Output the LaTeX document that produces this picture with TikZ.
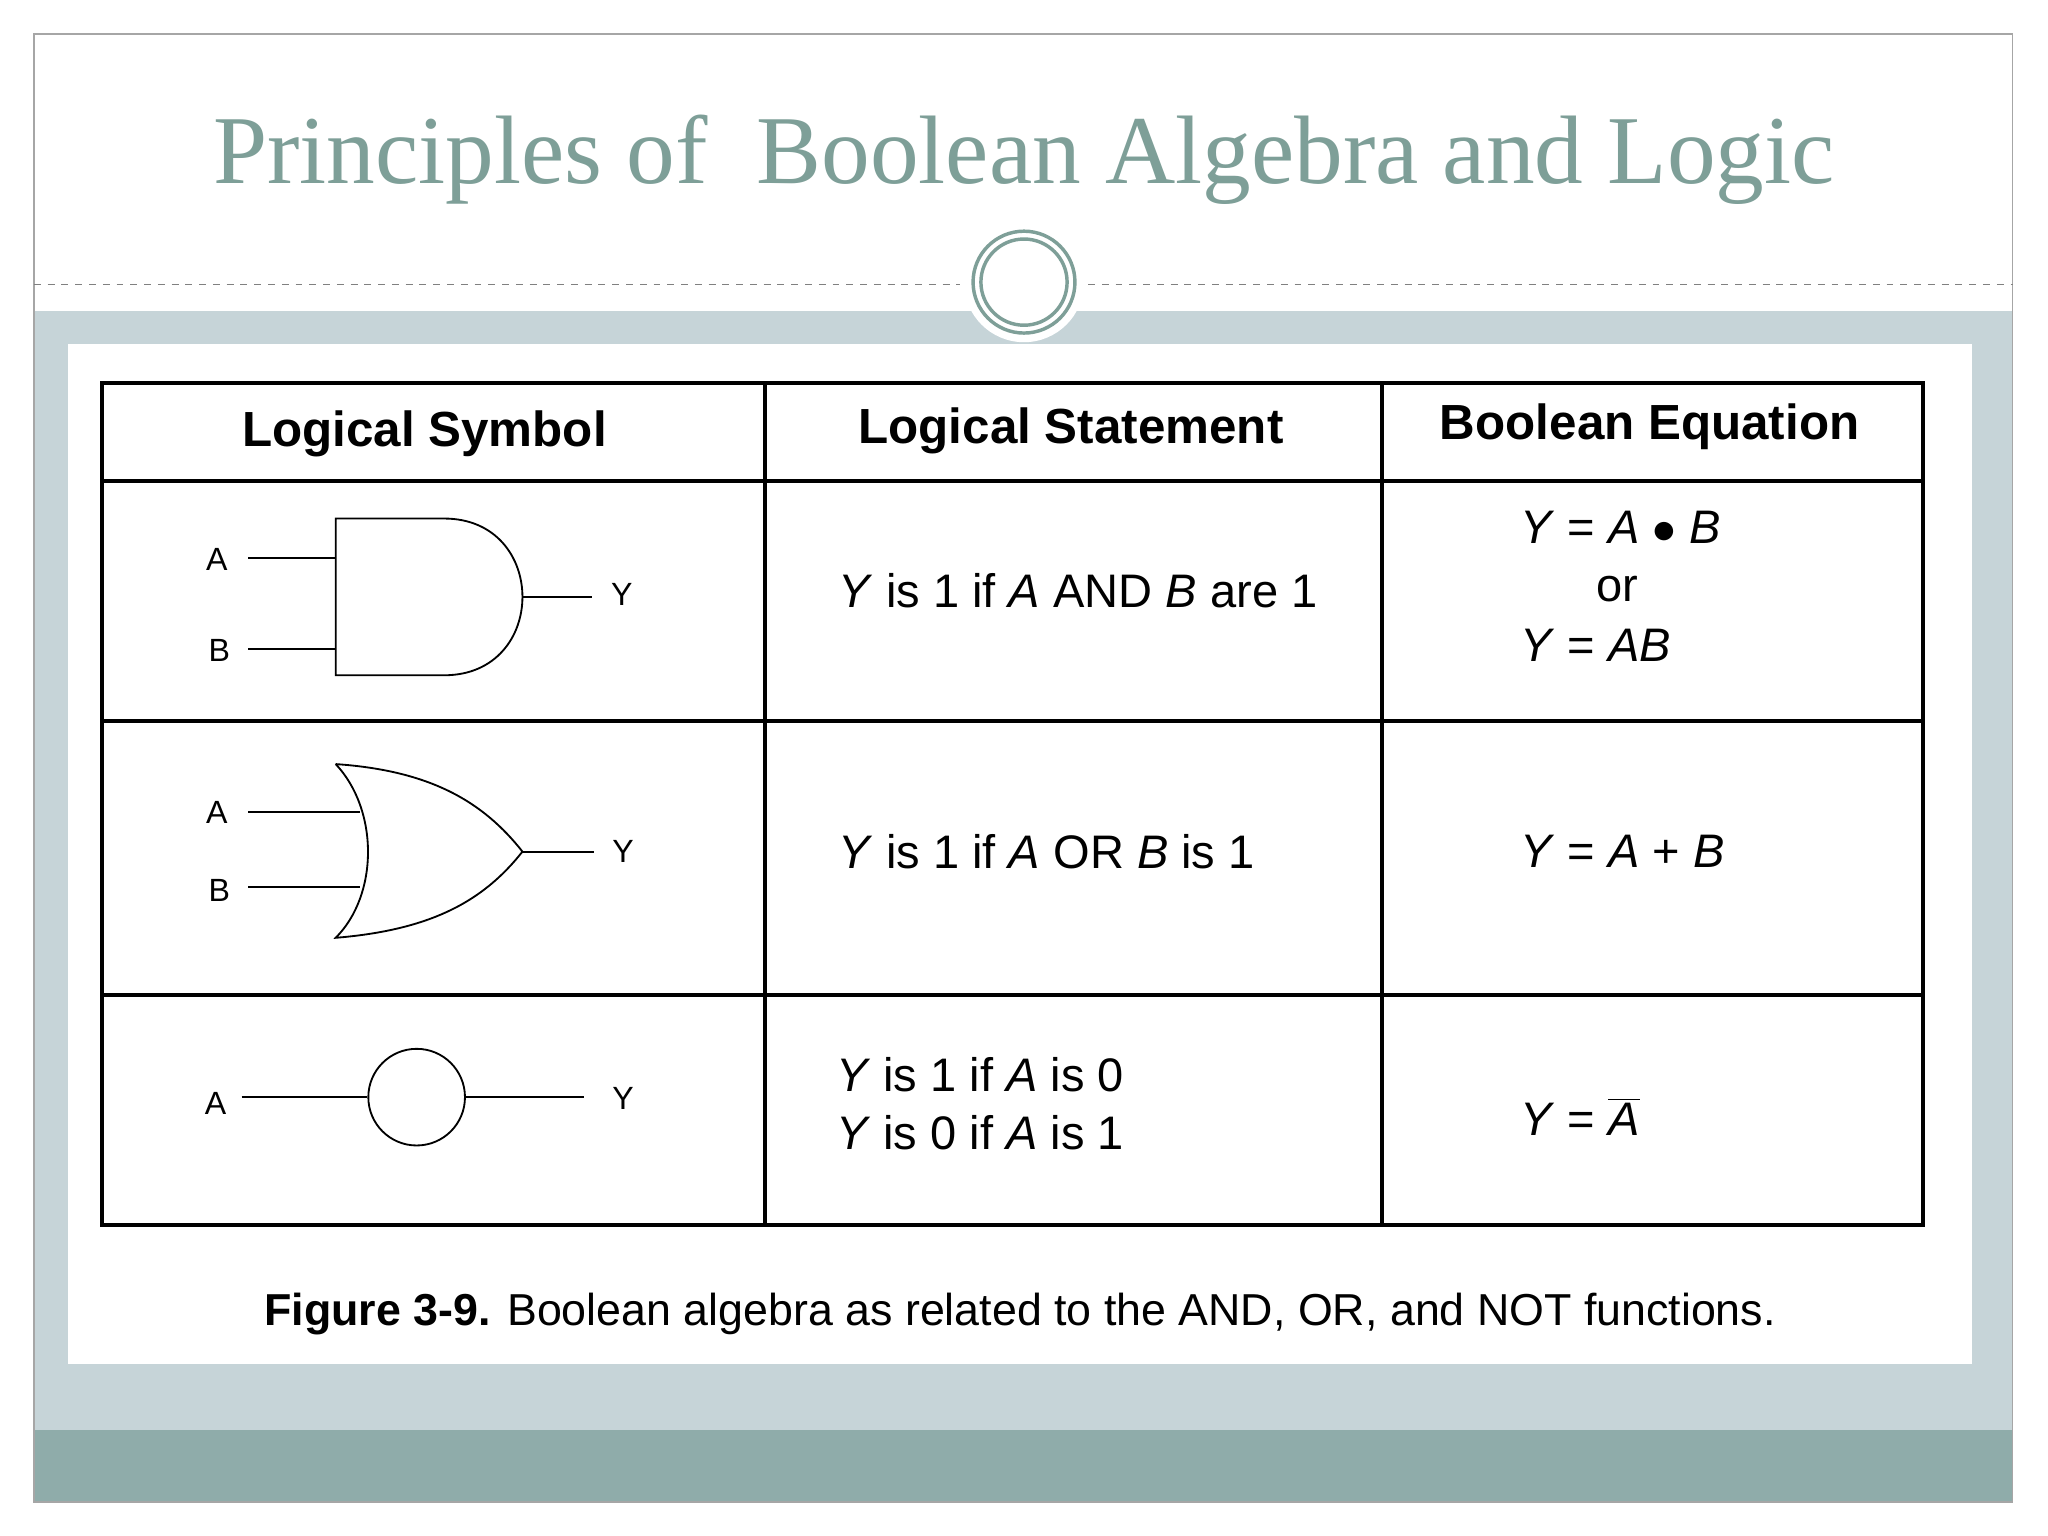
\documentclass[tikz,border=0pt]{standalone}
\usepackage{fontspec}
\setmainfont{Liberation Sans}
\newfontfamily\titlefont{Liberation Serif}
\begin{document}
\begin{tikzpicture}[x=0.02cm,y=-0.02cm,
  grid/.style={line width=1.7pt,black},
  wire/.style={line width=0.8pt,black},
  hdr/.style={font=\fontsize{21.5}{24}\selectfont\bfseries},
  txt/.style={font=\fontsize{20.5}{25}\selectfont,align=left},
  lbl/.style={font=\fontsize{14}{16}\selectfont}]
\useasboundingbox (0,0) rectangle (1568,1176);
\fill[white] (0,0) rectangle (1568,1176);
\definecolor{band}{HTML}{C6D4D8}
\definecolor{dark}{HTML}{8FACAA}
\definecolor{teal}{HTML}{7E9F98}
\fill[band] (26,238) rectangle (1541,1095);
\fill[dark] (26,1095) rectangle (1541,1150);
\draw[gray!70,line width=0.6pt] (26,26) rectangle (1541,1150);
\node[text=teal,font=\titlefont\fontsize{42.4}{48}\selectfont] (title) at (784,122) {Principles of \ Boolean Algebra and Logic};
\draw[gray,dashed,line width=0.5pt] (26,218) -- (735,218);
\draw[gray,dashed,line width=0.5pt] (833,218) -- (1541,218);
\fill[white] (784,216) circle (46);
\draw[teal,line width=1.5pt] (784,216) circle (39);
\draw[teal,line width=1.5pt] (784,216) circle (33);
\fill[white] (52,263) rectangle (1510,1044);
% table
\draw[grid] (78,293) rectangle (1472,938);
\draw[grid] (586,293) -- (586,938) (1058,293) -- (1058,938);
\draw[grid] (78,368) -- (1472,368) (78,552) -- (1472,552) (78,762) -- (1472,762);
\node[hdr] (h1) at (325,332) {Logical Symbol};
\node[hdr] (h2) at (820,330) {Logical Statement};
\node[hdr] (h3) at (1263,327) {Boolean Equation};
% AND gate
\draw[wire] (257,397) -- (340,397) .. controls (420,397) and (420,517) .. (340,517) -- (257,517) -- cycle;
\coordinate (andA) at (257,427); \coordinate (andB) at (257,497); \coordinate (andY) at (400,457);
\node[lbl] (a1) at (166,428) {A};
\node[lbl] (b1) at (168,498) {B};
\node[lbl] (y1) at (476,455) {Y};
\draw[wire] (190,427) -- (andA);
\draw[wire] (190,497) -- (andB);
\draw[wire] (andY) -- (453,457);
% OR gate
\draw[wire] (257,585) .. controls (290,620) and (290,685) .. (257,718)
  .. controls (330,712) and (370,690) .. (400,652)
  .. controls (370,614) and (330,590) .. (257,585);
\draw[wire] (190,622) -- (276,622);
\draw[wire] (190,679) -- (276,679);
\draw[wire] (400,652) -- (455,652);
\node[lbl] (a2) at (166,622) {A};
\node[lbl] (b2) at (168,682) {B};
\node[lbl] (y2) at (477,652) {Y};
% NOT
\node[draw,circle,minimum size=74*0.02cm,inner sep=0,wire] (inv) at (319,840) {};
\node[lbl] (a3) at (165,845) {A};
\node[lbl] (y3) at (477,841) {Y};
\draw[wire] (185,840) -- (inv.west);
\draw[wire] (inv.east) -- (447,840);
% statements
\node[txt,anchor=west] (s1) at (636,452) {\textit{Y} is 1 if \textit{A} AND \textit{B} are 1};
\node[txt,anchor=west] (s2) at (636,652) {\textit{Y} is 1 if \textit{A} OR \textit{B} is 1};
\node[txt,anchor=west] (s3) at (634,845) {\textit{Y} is 1 if \textit{A} is 0\\\textit{Y} is 0 if \textit{A} is 1};
% equations
\node[txt,anchor=west] (e1) at (1158,404) {\textit{Y} = \textit{A} $\bullet$ \textit{B}};
\node[txt] (e1b) at (1238,451) {or};
\node[txt,anchor=west] (e1c) at (1158,494) {\textit{Y} = \textit{AB}};
\node[txt,anchor=west] (e2) at (1158,652) {\textit{Y} = \textit{A} + \textit{B}};
\node[txt,anchor=west] (e3) at (1158,855) {\textit{Y} = $\overline{\mbox{\textit{A}}}$};
\node[font=\fontsize{19.5}{22}\selectfont] (cap) at (781,1006) {\textbf{Figure 3-9.} Boolean algebra as related to the AND, OR, and NOT functions.};
\end{tikzpicture}
\end{document}
